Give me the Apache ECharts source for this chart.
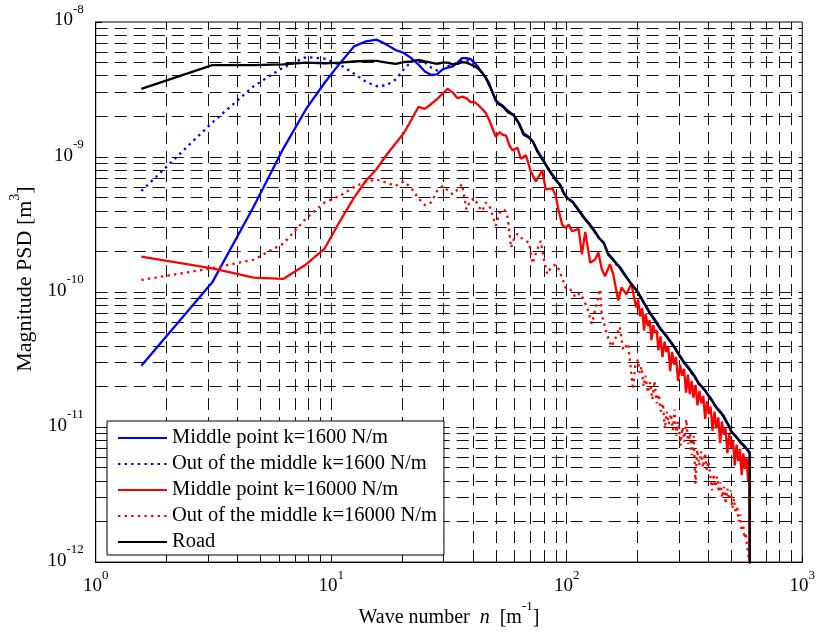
<!DOCTYPE html>
<html>
<head>
<meta charset="utf-8">
<script src="https://cdn.jsdelivr.net/npm/echarts@6/dist/echarts.min.js"></script>
<style>
  html, body { margin: 0; padding: 0; background: #fff; }
  #chart { width: 818px; height: 633px; }
</style>
</head>
<body>
<div id="chart"></div>
<script>
// ---------------- DATA ----------------
const seriesNames = [
  'Middle point k=1600 N/m',
  'Out of the middle k=1600 N/m',
  'Middle point k=16000 N/m',
  'Out of the middle k=16000 N/m',
  'Road'
];

// low wave-number part (common grid)
const nLow = [1.5625, 3.125, 4.6875, 6.25, 7.8125, 9.375, 10.9375, 12.5, 14.0625, 15.625,
  17.1875, 18.75, 20.3125, 21.875, 23.4375, 25, 26.5625, 28.125, 29.6875, 31.25,
  32.8125, 34.375, 35.9375, 37.5, 39.0625, 40.625, 42.1875, 43.75, 45.3125, 46.875, 48.4375, 50];

const psdBlueLow = [2.85e-11, 1.18e-10, 4.3e-10, 1.15e-9, 2.26e-9, 3.55e-9, 5.0e-9, 6.6e-9, 7.2e-9, 7.4e-9,
  6.8e-9, 6.2e-9, 5.9e-9, 5.4e-9, 4.85e-9, 4.3e-9, 4.05e-9, 4.1e-9, 4.45e-9, 4.6e-9,
  4.7e-9, 5.0e-9, 5.4e-9, 5.4e-9, 5.3e-9, 5.0e-9, 4.6e-9, 4.2e-9, 3.9e-9, 3.5e-9, 3.0e-9, 2.6e-9];

const psdBlueDotLow = [5.6e-10, 1.8e-9, 3.35e-9, 4.6e-9, 5.5e-9, 5.35e-9, 4.8e-9, 4.15e-9, 3.6e-9, 3.34e-9,
  3.4e-9, 3.75e-9, 4.45e-9, 5.1e-9, 5.15e-9, 5.0e-9, 4.6e-9, 4.37e-9, 4.45e-9, 4.7e-9,
  4.85e-9, 5.0e-9, 5.15e-9, 5.2e-9, 5.15e-9, 4.9e-9, 4.55e-9, 4.2e-9, 3.85e-9, 3.45e-9, 3.0e-9, 2.62e-9];

const psdRedLow = [1.83e-10, 1.5e-10, 1.28e-10, 1.25e-10, 1.6e-10, 2.1e-10, 3.4e-10, 5.0e-10, 6.7e-10, 8.2e-10,
  1.04e-9, 1.26e-9, 1.5e-9, 1.88e-9, 2.35e-9, 2.27e-9, 2.47e-9, 2.68e-9, 2.95e-9, 3.2e-9,
  3.0e-9, 2.73e-9, 2.8e-9, 2.73e-9, 2.55e-9, 2.55e-9, 2.42e-9, 2.27e-9, 2.12e-9, 1.88e-9, 1.62e-9, 1.41e-9];

const psdRedDotLow = [1.23e-10, 1.5e-10, 1.74e-10, 2.28e-10, 3.5e-10, 4.6e-10, 5.2e-10, 6.0e-10, 6.6e-10, 6.8e-10,
  6.45e-10, 6.1e-10, 6.6e-10, 5.9e-10, 4.95e-10, 4.4e-10, 4.6e-10, 5.6e-10, 6.1e-10, 5.67e-10,
  5.3e-10, 5.75e-10, 6.3e-10, 4.1e-10, 4.8e-10, 4.95e-10, 4.3e-10, 3.98e-10, 4.6e-10, 4.4e-10, 3.65e-10, 3.1e-10];

const psdRoadLow = [3.2e-9, 4.8e-9, 4.8e-9, 4.85e-9, 5.0e-9, 4.95e-9, 5.0e-9, 5.1e-9, 5.15e-9, 5.15e-9,
  5.0e-9, 4.9e-9, 5.05e-9, 5.1e-9, 5.25e-9, 5.1e-9, 5.0e-9, 4.9e-9, 5.0e-9, 5.0e-9,
  4.85e-9, 4.9e-9, 5.05e-9, 5.0e-9, 4.85e-9, 4.7e-9, 4.5e-9, 4.2e-9, 3.85e-9, 3.4e-9, 3.0e-9, 2.65e-9];

// high wave-number part: road and k=1600 responses
const nRoadHigh = [51.56, 53.13, 56.25, 59.38, 62.5, 65.63, 68.75, 71.88, 75, 78.13,
  81.25, 84.38, 87.5, 90.63, 93.75, 96.88, 100, 106.25, 112.5, 118.75,
  125, 131.25, 137.5, 143.75, 150, 156.25, 162.5, 168.75, 175, 187.5,
  200, 212.5, 225, 237.5, 250, 262.5, 275, 287.5, 300, 312.5,
  325, 337.5, 350, 362.5, 375, 387.5, 400, 412.5, 425, 437.5,
  450, 462.5, 475, 487.5, 500, 525, 550, 575, 598.44, 600];

const psdRoadHigh = [2.45e-9, 2.4e-9, 2.15e-9, 2.05e-9, 1.78e-9, 1.46e-9, 1.4e-9, 1.3e-9, 1.1e-9, 9.8e-10,
  8.8e-10, 7.9e-10, 7.2e-10, 6.6e-10, 6.2e-10, 5.4e-10, 5.0e-10, 4.6e-10, 4.0e-10, 3.5e-10,
  3.15e-10, 2.8e-10, 2.5e-10, 2.3e-10, 1.9e-10, 1.75e-10, 1.62e-10, 1.5e-10, 1.36e-10, 1.15e-10,
  1.0e-10, 8.3e-11, 7.0e-11, 6.1e-11, 5.3e-11, 4.8e-11, 4.3e-11, 3.85e-11, 3.4e-11, 3.05e-11,
  2.8e-11, 2.55e-11, 2.35e-11, 2.1e-11, 1.98e-11, 1.85e-11, 1.7e-11, 1.58e-11, 1.45e-11, 1.35e-11,
  1.28e-11, 1.2e-11, 1.1e-11, 1.02e-11, 9.2e-12, 8.4e-12, 7.6e-12, 7.0e-12, 6.4e-12, 1e-14];

const psdBlueHigh = [2.5e-9, 2.42e-9, 2.2e-9, 2.05e-9, 1.8e-9, 1.5e-9, 1.42e-9, 1.3e-9, 1.12e-9, 1.0e-9,
  8.9e-10, 8.0e-10, 7.3e-10, 6.7e-10, 6.2e-10, 5.5e-10, 5.05e-10, 4.65e-10, 4.05e-10, 3.55e-10,
  3.2e-10, 2.85e-10, 2.5e-10, 2.32e-10, 1.92e-10, 1.78e-10, 1.63e-10, 1.52e-10, 1.38e-10, 1.16e-10,
  1.01e-10, 8.4e-11, 7.1e-11, 6.2e-11, 5.4e-11, 4.85e-11, 4.35e-11, 3.9e-11, 3.45e-11, 3.1e-11,
  2.85e-11, 2.6e-11, 2.38e-11, 2.13e-11, 2.0e-11, 1.87e-11, 1.72e-11, 1.6e-11, 1.47e-11, 1.37e-11,
  1.3e-11, 1.22e-11, 1.12e-11, 1.03e-11, 9.3e-12, 8.5e-12, 7.7e-12, 7.1e-12, 6.5e-12, 1e-14];

const psdBlueDotHigh = [2.45e-9, 2.38e-9, 2.17e-9, 2.03e-9, 1.79e-9, 1.47e-9, 1.41e-9, 1.29e-9, 1.1e-9, 9.9e-10,
  8.8e-10, 7.95e-10, 7.2e-10, 6.65e-10, 6.15e-10, 5.45e-10, 5.0e-10, 4.6e-10, 4.0e-10, 3.5e-10,
  3.18e-10, 2.8e-10, 2.48e-10, 2.3e-10, 1.9e-10, 1.76e-10, 1.6e-10, 1.5e-10, 1.37e-10, 1.15e-10,
  1.0e-10, 8.3e-11, 7.0e-11, 6.1e-11, 5.3e-11, 4.8e-11, 4.3e-11, 3.85e-11, 3.4e-11, 3.05e-11,
  2.8e-11, 2.55e-11, 2.35e-11, 2.1e-11, 1.98e-11, 1.85e-11, 1.7e-11, 1.58e-11, 1.45e-11, 1.35e-11,
  1.28e-11, 1.2e-11, 1.1e-11, 1.02e-11, 9.2e-12, 8.4e-12, 7.6e-12, 7.0e-12, 6.4e-12, 1e-14];

// high wave-number part: k=16000, middle point
const nRedHigh = [51.8, 53.5, 55.3, 57.05, 58.9, 61.8, 63.9, 67.1, 70.4, 73.9,
  78.7, 81.4, 86.8, 89.7, 92.5, 95.6, 98.7, 102, 105.3, 112.3,
  116, 119.8, 125.8, 132, 136.3, 140.7, 145.4, 152.6, 157.6, 165.4,
  170.8, 179.2, 188.1, 197, 201, 205, 209, 213, 216, 221,
  225, 229, 233, 236, 241, 245, 250, 255, 260, 265,
  270, 275, 280, 286, 291, 297, 303, 309, 315, 321,
  327, 333, 339, 345, 352, 359, 366, 373, 380, 387,
  394, 401, 408, 416, 424, 432, 440, 448, 456, 464,
  472, 481, 490, 499, 508, 517, 526, 535, 544, 553,
  562, 571, 580, 589, 596, 600];
const psdRedHigh = [1.53e-9, 1.46e-9, 1.44e-9, 1.22e-9, 1.12e-9, 1.17e-9, 9.7e-10, 1.03e-9, 7.8e-10, 6.6e-10,
  7.95e-10, 5.77e-10, 5.87e-10, 5.2e-10, 3.98e-10, 3.16e-10, 2.99e-10, 3.16e-10, 2.82e-10, 2.94e-10,
  1.9e-10, 2.79e-10, 1.65e-10, 1.74e-10, 1.96e-10, 1.48e-10, 1.31e-10, 1.61e-10, 1.35e-10, 8.66e-11,
  1.08e-10, 9.63e-11, 1.15e-10, 7.7e-11, 8.8e-11, 6.6e-11, 7.6e-11, 5.2e-11, 6.9e-11, 5.6e-11,
  6.2e-11, 4.4e-11, 5.7e-11, 5.0e-11, 5.2e-11, 3.7e-11, 4.7e-11, 3.3e-11, 4.3e-11, 3.6e-11,
  3.9e-11, 2.6e-11, 3.6e-11, 2.9e-11, 3.3e-11, 2.2e-11, 2.9e-11, 2.4e-11, 2.7e-11, 1.8e-11,
  2.45e-11, 1.75e-11, 2.2e-11, 1.65e-11, 2.05e-11, 1.45e-11, 1.85e-11, 1.5e-11, 1.7e-11, 1.15e-11,
  1.55e-11, 1.25e-11, 1.42e-11, 9.4e-12, 1.3e-11, 9.8e-12, 1.18e-11, 7.6e-12, 1.1e-11, 8.8e-12,
  9.8e-12, 6.4e-12, 8.9e-12, 7.0e-12, 8.0e-12, 5.2e-12, 7.4e-12, 5.6e-12, 6.9e-12, 4.4e-12,
  6.4e-12, 4.9e-12, 6.0e-12, 4.0e-12, 5.7e-12, 1e-14];

// high wave-number part: k=16000, out of the middle
const nRedDotHigh = [51.8, 54.4, 56.2, 58.0, 59.9, 61.8, 64.1, 67.1, 69.2, 71.5,
  74.1, 77.5, 80.1, 82.6, 85.7, 89.7, 92.5, 95.6, 98.7, 102,
  105.3, 108.8, 113.4, 117.9, 122.5, 127.8, 132.4, 138.6, 140.7, 147.7,
  155, 160.7, 168.1, 173.6, 182.2, 191.2, 195, 200.7, 204, 208,
  212, 216, 221, 226, 231, 236, 241, 246, 251, 256,
  261, 266, 271, 277, 282, 287, 292, 298, 304, 310,
  316, 322, 328, 334, 340, 346, 352, 358, 365, 372,
  379, 386, 393, 400, 407, 414, 421, 428, 435, 442,
  449, 457, 465, 473, 481, 489, 497, 505, 513, 521,
  529, 537, 545, 553, 561, 569, 576, 582, 588, 594, 600];
const psdRedDotHigh = [3.85e-10, 4.08e-10, 3.53e-10, 2.13e-10, 2.52e-10, 2.7e-10, 2.52e-10, 2.39e-10, 2.32e-10, 1.63e-10,
  1.96e-10, 2.39e-10, 1.74e-10, 1.36e-10, 1.52e-10, 1.6e-10, 1.47e-10, 1.28e-10, 1.08e-10, 1.08e-10,
  1.01e-10, 9.16e-11, 9.8e-11, 8.86e-11, 7.48e-11, 5.83e-11, 7.48e-11, 1.05e-10, 6.87e-11, 4.93e-11,
  3.94e-11, 4.51e-11, 5.52e-11, 3.72e-11, 4.16e-11, 1.9e-11, 2.81e-11, 3.15e-11, 2.5e-11, 2.8e-11,
  2.0e-11, 2.4e-11, 1.8e-11, 2.15e-11, 1.6e-11, 2.2e-11, 1.5e-11, 1.75e-11, 1.3e-11, 1.5e-11,
  9.7e-12, 1.3e-11, 1.05e-11, 1.25e-11, 9.5e-12, 1.35e-11, 8.6e-12, 1.1e-11, 7.3e-12, 1.0e-11,
  7.8e-12, 1.14e-11, 7.5e-12, 9.0e-12, 6.2e-12, 8.6e-12, 3.8e-12, 6.8e-12, 5.2e-12, 6.6e-12,
  5.0e-12, 6.4e-12, 4.8e-12, 5.6e-12, 4.4e-12, 3.4e-12, 4.5e-12, 3.6e-12, 4.3e-12, 3.3e-12,
  3.9e-12, 3.0e-12, 3.6e-12, 2.7e-12, 3.5e-12, 2.9e-12, 3.4e-12, 2.5e-12, 2.95e-12, 2.3e-12,
  2.6e-12, 2.0e-12, 2.25e-12, 1.7e-12, 1.9e-12, 1.5e-12, 1.65e-12, 1.35e-12, 1.2e-12, 1.05e-12, 8e-13];

// axis ranges (decades)
const xDecades = [1, 10, 100, 1000];
const yDecades = [1e-12, 1e-11, 1e-10, 1e-9, 1e-8];

// ---------------- BUILD ----------------
function pairs(nArr, vArr) { return nArr.map((n, i) => [n, vArr[i]]); }

const FONT = 'Liberation Serif';
const blue = '#0000FF', red = '#FF0000', black = '#000000';
const xMin = xDecades[0], xMax = xDecades[xDecades.length - 1];
const yMin = yDecades[0], yMax = yDecades[yDecades.length - 1];

const gridLines = [];
for (let d = 0; d < xDecades.length - 1; d++) {
  for (let m = 1; m <= 9; m++) {
    if (d === 0 && m === 1) continue;
    const v = xDecades[d] * m;
    gridLines.push([{ coord: [v, yMin] }, { coord: [v, yMax] }]);
  }
}
for (let d = 0; d < yDecades.length - 1; d++) {
  for (let m = 1; m <= 9; m++) {
    if (d === 0 && m === 1) continue;
    const v = yDecades[d] * m;
    gridLines.push([{ coord: [xMin, v] }, { coord: [xMax, v] }]);
  }
}

const labelRich = {
  b: { fontFamily: FONT, fontSize: 19, lineHeight: 35, color: '#000', verticalAlign: 'middle' },
  s: { fontFamily: FONT, fontSize: 13, lineHeight: 13, color: '#000', verticalAlign: 'top' }
};
function expLabel(v) {
  const e = Math.round(Math.log10(v));
  return '{b|10}{s|' + e + '}';
}

function lineSeries(name, data, color, dotted, z) {
  return {
    name: name, type: 'line', data: data, z: z,
    symbol: 'none', showSymbol: false, smooth: false, clip: true,
    lineStyle: { color: color, width: 2.3, type: dotted ? [2.4, 4.2] : 'solid', cap: 'butt' },
    itemStyle: { color: color },
    emphasis: { disabled: true }
  };
}

const chart = echarts.init(document.getElementById('chart'), null, { renderer: 'canvas' });
chart.setOption({
  animation: false,
  backgroundColor: '#ffffff',
  grid: { left: 92, right: 12, top: 22, bottom: 66, show: true, borderColor: '#000', borderWidth: 1, backgroundColor: 'transparent' },
  xAxis: {
    type: 'log', logBase: 10, min: xMin, max: xMax,
    name: '{a|Wave number  }{i|n}{a|  [m}{s|-1}{a|]}',
    nameLocation: 'middle', nameGap: 34,
    nameTextStyle: {
      fontFamily: FONT, fontSize: 20, color: '#000',
      rich: {
        a: { fontFamily: FONT, fontSize: 20, color: '#000', lineHeight: 35, verticalAlign: 'middle' },
        i: { fontFamily: FONT, fontSize: 20, fontStyle: 'italic', color: '#000', lineHeight: 35, verticalAlign: 'middle' },
        s: { fontFamily: FONT, fontSize: 13, color: '#000', lineHeight: 13, verticalAlign: 'top' }
      }
    },
    axisLine: { show: true, lineStyle: { color: '#000', width: 1 } },
    axisTick: { show: true, inside: true, length: 6, lineStyle: { color: '#000' } },
    splitLine: { show: false },
    axisLabel: { formatter: expLabel, rich: labelRich, margin: 6.5, color: '#000' }
  },
  yAxis: {
    type: 'log', logBase: 10, min: yMin, max: yMax,
    name: '{a|Magnitude PSD [m}{s|3}{a|]}',
    nameLocation: 'middle', nameGap: 49,
    nameTextStyle: {
      fontFamily: FONT, fontSize: 22, color: '#000', padding: [0, 0, 0, 26],
      rich: {
        a: { fontFamily: FONT, fontSize: 22, color: '#000', lineHeight: 35, verticalAlign: 'middle' },
        s: { fontFamily: FONT, fontSize: 14, color: '#000', lineHeight: 14, verticalAlign: 'top' }
      }
    },
    axisLine: { show: true, lineStyle: { color: '#000', width: 1 } },
    axisTick: { show: true, inside: true, length: 6, lineStyle: { color: '#000' } },
    splitLine: { show: false },
    axisLabel: { formatter: expLabel, rich: labelRich, margin: 12, color: '#000', padding: [0, 0, 3, 0] }
  },
  legend: {
    data: seriesNames,
    orient: 'vertical', left: 107, top: 421, z: 50, zlevel: 0,
    padding: [4, 7, 0, 10],
    itemGap: 0, itemWidth: 49, itemHeight: 14, itemTextGap: 5,
    backgroundColor: '#ffffff', borderColor: '#000', borderWidth: 1, borderRadius: 0,
    itemStyle: { opacity: 0 },
    textStyle: { fontFamily: FONT, fontSize: 20.5, color: '#000', lineHeight: 26 },
    selectedMode: false
  },
  series: [
    {
      name: 'grid', type: 'line', data: [], z: 1, silent: true,
      markLine: {
        silent: true, symbol: ['none', 'none'], animation: false, z: 1,
        label: { show: false },
        lineStyle: { color: '#111', width: 1, type: [12, 7] },
        emphasis: { disabled: true },
        data: gridLines
      }
    },
    lineSeries(seriesNames[0], pairs(nLow, psdBlueLow).concat(pairs(nRoadHigh, psdBlueHigh)), blue, false, 3),
    lineSeries(seriesNames[1], pairs(nLow, psdBlueDotLow).concat(pairs(nRoadHigh, psdBlueDotHigh)), blue, true, 3),
    lineSeries(seriesNames[2], pairs(nLow, psdRedLow).concat(pairs(nRedHigh, psdRedHigh)), red, false, 3),
    lineSeries(seriesNames[3], pairs(nLow, psdRedDotLow).concat(pairs(nRedDotHigh, psdRedDotHigh)), red, true, 3),
    lineSeries(seriesNames[4], pairs(nLow, psdRoadLow).concat(pairs(nRoadHigh, psdRoadHigh)), black, false, 4)
  ]
});
</script>
</body>
</html>
